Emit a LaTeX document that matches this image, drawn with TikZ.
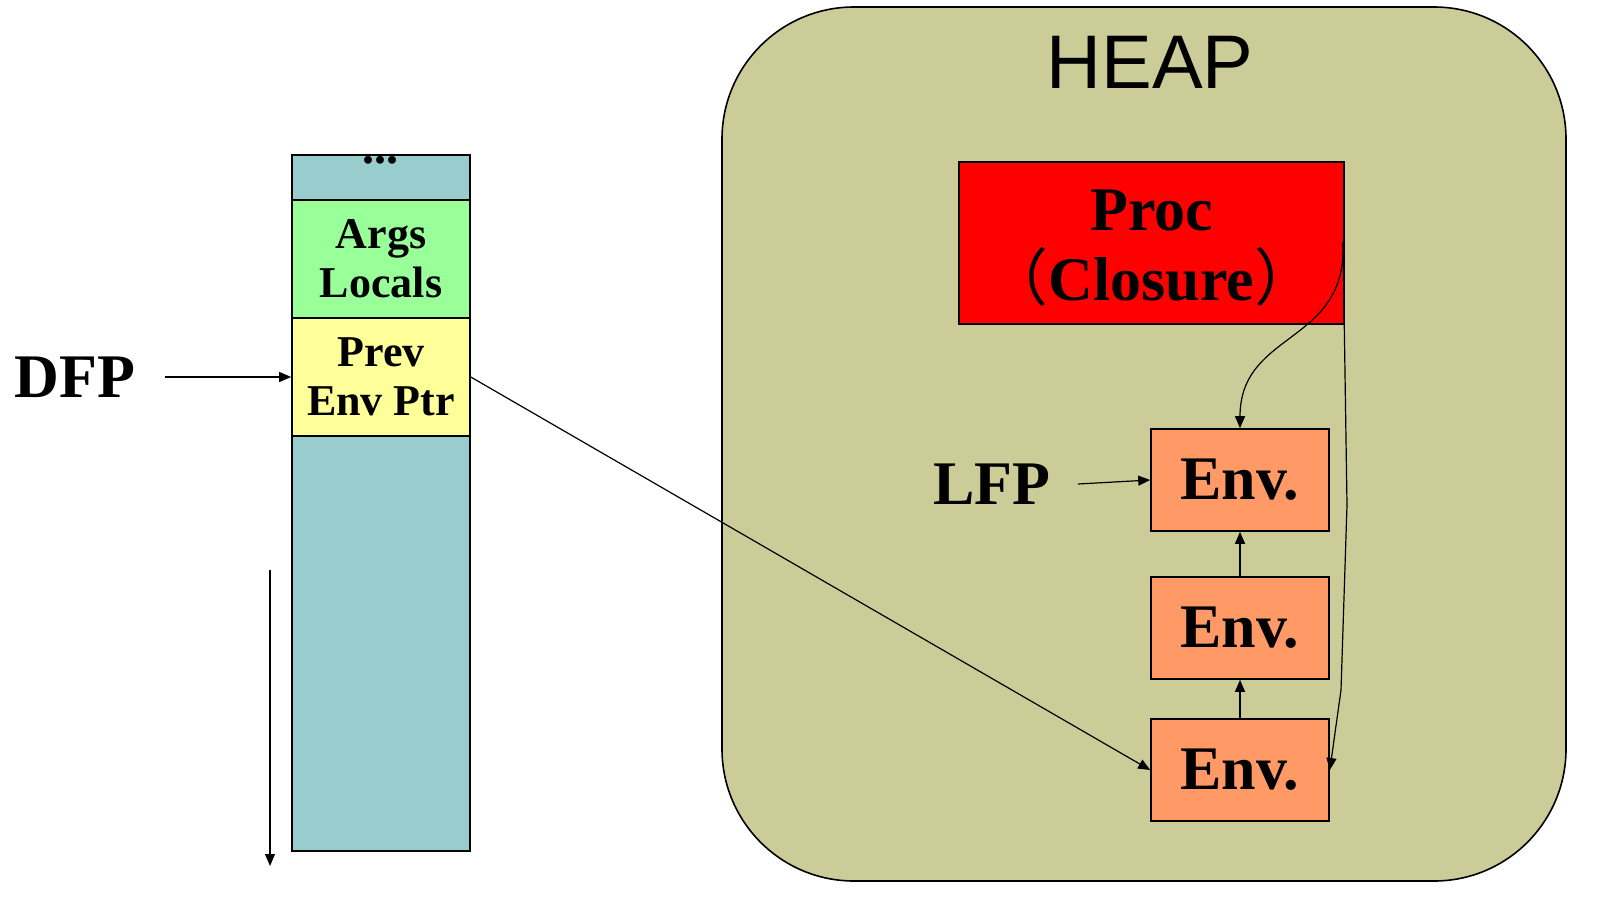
\documentclass[tikz,border=0pt]{standalone}
\usepackage{fontspec}
\setmainfont{Liberation Serif}
\newfontfamily\heapfont{Liberation Sans}
\newfontfamily\cjk{Noto Sans CJK SC}
\usetikzlibrary{arrows.meta}
\definecolor{stackteal}{HTML}{99CCCC}
\definecolor{stackgreen}{HTML}{99FF99}
\definecolor{stackyellow}{HTML}{FFFF99}
\definecolor{heapbg}{HTML}{CCCC99}
\definecolor{envorange}{HTML}{FF9966}
\begin{document}
\begin{tikzpicture}[x=0.5pt,y=-0.5pt,>={Triangle[length=6pt,width=5pt]},line width=0.6pt]
    \tikzstyle{cell}=[draw=black, line width=0.8pt, inner sep=0pt, minimum width=89pt, align=center, font=\bfseries\fontsize{22}{24.5}\selectfont]
    \tikzstyle{env}=[draw=black, line width=0.8pt, fill=envorange, minimum width=89pt, minimum height=51pt, inner sep=0pt, font=\bfseries\fontsize{31}{32}\selectfont]
    \tikzstyle{annot}=[font=\bfseries\fontsize{31}{32}\selectfont]

    \fill[white] (0,0) rectangle (1600,901);
    \useasboundingbox (0,0) rectangle (1600,901);

    % The heap area
    \node[draw=black, line width=0.8pt, fill=heapbg, rounded corners=66pt, minimum width=422pt, minimum height=437pt, inner sep=0pt] (heap) at (1144,444) {};
    \node[font=\heapfont\fontsize{38}{40}\selectfont] (heaplbl) at (1150,62) {HEAP};

    % The stack cells
    \node[cell, fill=stackteal, minimum height=22.5pt] (S-top) at (381,177.5) {};
    \node[cell, fill=stackgreen, minimum height=59pt] (S-args) at (381,259) {Args\\Locals};
    \node[cell, fill=stackyellow, minimum height=59pt] (S-prev) at (381,377) {Prev\\Env Ptr};
    \node[cell, fill=stackteal, minimum height=207.5pt] (S-rest) at (381,643.5) {};
    \node[font=\bfseries\fontsize{24}{24}\selectfont, anchor=base] (dots) at (380,163) {...};

    % Direction of growth
    \coordinate (grow-a) at (270,570);
    \coordinate (grow-b) at (270,866);
    \draw[->] (grow-a) -- (grow-b);

    % Frame pointer
    \node[annot] (dfp) at (75,377) {DFP};
    \draw[->] (dfp.east) ++(11pt,0) coordinate (dfp-from) -- (S-prev.west);

    % The closure
    \node[draw=black, line width=0.8pt, fill=red, minimum width=192.5pt, minimum height=81pt, inner sep=0pt, align=center, font=\bfseries\fontsize{31}{35}\selectfont] (proc) at (1151.5,243) {};
    \node[align=center, font=\bfseries\fontsize{31}{35}\selectfont] (proc-txt) at (1151.5,248) {Proc\\{\cjk\mdseries （}Closure{\cjk\mdseries ）}};

    % The environments
    \foreach \name / \y in {1/480,2/628,3/770}
        \node[env] (E-\name) at (1240,\y) {Env.};

    \draw[->] (E-3) -- (E-2);
    \draw[->] (E-2) -- (E-1);

    % Local frame pointer
    \node[annot] (lfp) at (992,484) {LFP};
    \draw[->] (lfp.east) ++(10pt,0) coordinate (lfp-from) -- (E-1.west);

    % Links from the closure and the stack
    \coordinate (proc-out) at (1343,242);
    \draw[->] (proc-out) .. controls (1348,345) and (1240,330) .. (E-1.north);
    \draw[->] (proc-out) -- (1347,505) -- (1341,690) -- (E-3.east);
    \draw[->] (S-prev.east) -- (E-3.west);
\end{tikzpicture}
\end{document}
